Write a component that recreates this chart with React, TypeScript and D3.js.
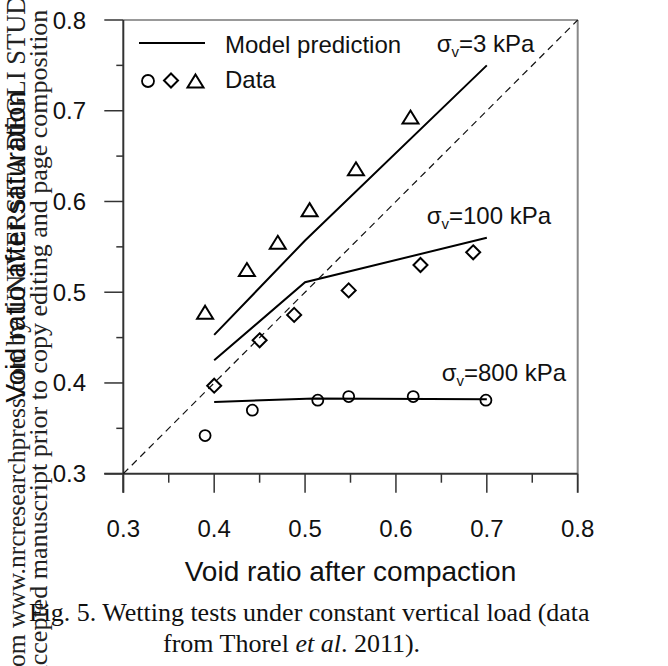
import React from "react";
import * as d3 from "d3";

// ---- data ----
const majorTicks = [0.3, 0.4, 0.5, 0.6, 0.7, 0.8];
const minorTicks = [0.35, 0.45, 0.55, 0.65, 0.75];
const tickLabels = ["0.3", "0.4", "0.5", "0.6", "0.7", "0.8"];

// Data: sigma_v = 3 kPa (triangles)
const tri_x = [0.39, 0.436, 0.47, 0.505, 0.556, 0.616];
const tri_y = [0.478, 0.525, 0.555, 0.591, 0.636, 0.693];
// Data: sigma_v = 100 kPa (diamonds)
const dia_x = [0.4, 0.45, 0.488, 0.548, 0.627, 0.685];
const dia_y = [0.397, 0.447, 0.475, 0.502, 0.53, 0.544];
// Data: sigma_v = 800 kPa (circles)
const cir_x = [0.39, 0.442, 0.514, 0.548, 0.619, 0.699];
const cir_y = [0.342, 0.37, 0.381, 0.385, 0.385, 0.381];

// Model predictions
const m3_x = [0.4, 0.5, 0.7];
const m3_y = [0.453, 0.557, 0.75];
const m100_x = [0.4, 0.5, 0.7];
const m100_y = [0.425, 0.511, 0.56];
const m800_x = [0.4, 0.51, 0.7];
const m800_y = [0.379, 0.383, 0.382];

const diag = [0.3, 0.8];

const W = 668;
const H = 666;
const sans = "'Liberation Sans', Arial, Helvetica, sans-serif";
const serif = "'Liberation Serif', 'Times New Roman', Times, serif";

export default function App() {
  const x = d3.scaleLinear().domain([0.3, 0.8]).range([123.3, 577.7]);
  const y = d3.scaleLinear().domain([0.3, 0.8]).range([473.7, 20]);
  const line = d3
    .line<[number, number]>()
    .x((d) => x(d[0]))
    .y((d) => y(d[1]));
  const zip = (a: number[], b: number[]) =>
    a.map((v, i) => [v, b[i]] as [number, number]);

  const triPath = (cx: number, cy: number) =>
    `M${cx},${cy - 6.5}L${cx + 8},${cy + 6.5}L${cx - 8},${cy + 6.5}Z`;
  const diaPath = (cx: number, cy: number) =>
    `M${cx},${cy - 7}L${cx + 7},${cy}L${cx},${cy + 7}L${cx - 7},${cy}Z`;

  const x0 = x(0.3);
  const x1 = x(0.8);
  const y0 = y(0.3);
  const y1 = y(0.8);

  const sigma = (xv: number, yv: number, rest: string) => (
    <text x={x(xv)} y={y(yv)} fontFamily={sans} fontSize={24} fill="#111">
      σ
      <tspan fontSize={15} dy={5}>
        v
      </tspan>
      <tspan dy={-5}>{rest}</tspan>
    </text>
  );

  return (
    <svg
      width={W}
      height={H}
      style={{ position: "absolute", left: 0, top: 0, background: "#fff" }}
    >
      <rect x={0} y={0} width={W} height={H} fill="#fff" />

      {/* watermark columns */}
      <text
        transform={`translate(25,684) rotate(-90)`}
        fontFamily={serif}
        fontSize={25.5}
        fill="#222"
      >
        from www.nrcresearchpress.com
      </text>
      <text
        transform={`translate(25,346) rotate(-90)`}
        fontFamily={serif}
        fontSize={26.5}
        fill="#222"
      >
        by UNIVERSITA DEGLI STUDI DI
      </text>
      <text
        transform={`translate(47,684) rotate(-90)`}
        fontFamily={serif}
        fontSize={26}
        fill="#222"
      >
        Accepted manuscript prior to copy editing and page composition
      </text>

      {/* y axis title */}
      <text
        transform={`translate(25,${(y0 + y1) / 2}) rotate(-90)`}
        textAnchor="middle"
        fontFamily={sans}
        fontSize={28}
        fill="#111"
      >
        Void ratio after saturation
      </text>

      {/* frame */}
      <line x1={x0} y1={y1} x2={x1} y2={y1} stroke="#777" strokeWidth={1.5} />
      <line x1={x1} y1={y1} x2={x1} y2={y0 + 19} stroke="#888" strokeWidth={2} />
      <line x1={x0} y1={y1} x2={x0} y2={y0 + 19} stroke="#333" strokeWidth={2} />
      <line x1={x0 - 19} y1={y0} x2={x1} y2={y0} stroke="#333" strokeWidth={2} />

      {/* ticks */}
      {majorTicks.map((t) => (
        <g key={"mx" + t}>
          <line x1={x(t)} x2={x(t)} y1={y0} y2={y0 + 19} stroke="#333" strokeWidth={1.5} />
          <line x1={x0 - 19} x2={x0} y1={y(t)} y2={y(t)} stroke="#333" strokeWidth={1.5} />
        </g>
      ))}
      {minorTicks.map((t) => (
        <g key={"mn" + t}>
          <line x1={x(t)} x2={x(t)} y1={y0} y2={y0 + 9} stroke="#333" strokeWidth={1.5} />
          <line x1={x0 - 7} x2={x0} y1={y(t)} y2={y(t)} stroke="#333" strokeWidth={1.5} />
        </g>
      ))}
      {majorTicks.map((t, i) => (
        <g key={"lb" + t}>
          <text x={x(t)} y={537} textAnchor="middle" fontFamily={sans} fontSize={24} fill="#111">
            {tickLabels[i]}
          </text>
          <text x={86} y={y(t) + 8.5} textAnchor="end" fontFamily={sans} fontSize={24} fill="#111">
            {tickLabels[i]}
          </text>
        </g>
      ))}

      {/* x axis title */}
      <text
        x={(x0 + x1) / 2}
        y={581}
        textAnchor="middle"
        fontFamily={sans}
        fontSize={28}
        fill="#111"
      >
        Void ratio after compaction
      </text>

      {/* 1:1 line */}
      <path
        d={line(zip(diag, diag)) || ""}
        fill="none"
        stroke="#111"
        strokeWidth={1.2}
        strokeDasharray="7,5"
      />

      {/* model lines */}
      {[zip(m3_x, m3_y), zip(m100_x, m100_y), zip(m800_x, m800_y)].map((pts, i) => (
        <path key={"m" + i} d={line(pts) || ""} fill="none" stroke="#000" strokeWidth={2} />
      ))}

      {/* data markers */}
      {zip(tri_x, tri_y).map((d, i) => (
        <path key={"t" + i} d={triPath(x(d[0]), y(d[1]))} fill="none" stroke="#000" strokeWidth={2} />
      ))}
      {zip(dia_x, dia_y).map((d, i) => (
        <path key={"d" + i} d={diaPath(x(d[0]), y(d[1]))} fill="none" stroke="#000" strokeWidth={2} />
      ))}
      {zip(cir_x, cir_y).map((d, i) => (
        <circle key={"c" + i} cx={x(d[0])} cy={y(d[1])} r={5.5} fill="none" stroke="#000" strokeWidth={1.8} />
      ))}

      {/* annotations */}
      {sigma(0.6449, 0.7647, "=3 kPa")}
      {sigma(0.6338, 0.5749, "=100 kPa")}
      {sigma(0.6503, 0.4022, "=800 kPa")}

      {/* legend */}
      <line x1={139} x2={205} y1={43} y2={43} stroke="#000" strokeWidth={2} />
      <text x={225} y={53} fontFamily={sans} fontSize={24} fill="#111">
        Model prediction
      </text>
      <circle cx={148} cy={81} r={6} fill="none" stroke="#000" strokeWidth={1.8} />
      <path d={diaPath(171, 80.5)} fill="none" stroke="#000" strokeWidth={2} />
      <path d={triPath(195.5, 81)} fill="none" stroke="#000" strokeWidth={2} />
      <text x={225} y={88} fontFamily={sans} fontSize={24} fill="#111">
        Data
      </text>

      {/* caption */}
      <text x={29} y={621} fontFamily={serif} fontSize={26} fill="#111">
        Fig. 5. Wetting tests under constant vertical load (data
      </text>
      <text x={163} y={652} fontFamily={serif} fontSize={26} fill="#111">
        from Thorel <tspan fontStyle="italic">et al</tspan>. 2011).
      </text>
    </svg>
  );
}
